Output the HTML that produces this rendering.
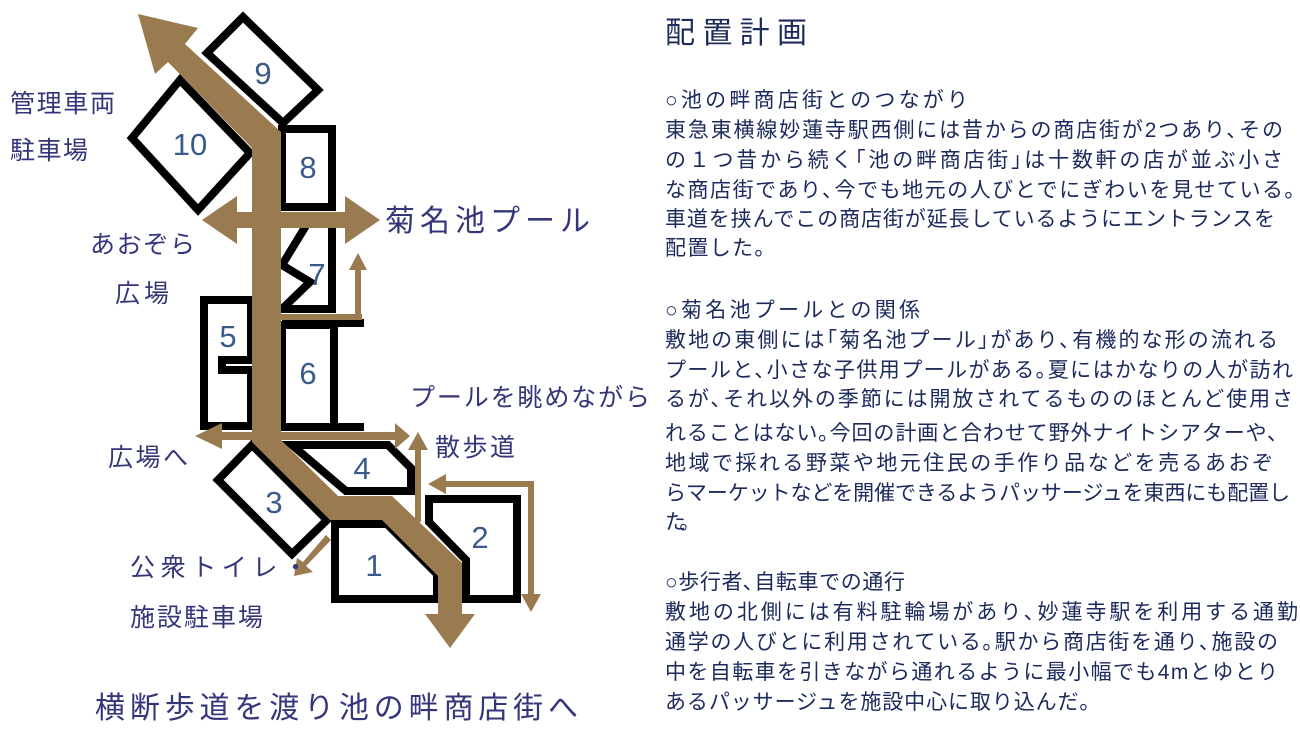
<!DOCTYPE html>
<html><head><meta charset="utf-8"><style>
html,body{margin:0;padding:0;background:#fff;}
svg{display:block;}
.lab{font-family:"Liberation Sans","Noto Sans CJK JP",sans-serif;fill:#35357a;}
.num{font-family:"Liberation Sans","DejaVu Sans",sans-serif;fill:#3a5a8c;font-size:31px;text-anchor:middle;}
.t{font-family:"Liberation Sans","Noto Sans CJK JP",sans-serif;fill:#1c2a5c;font-size:21px;}
</style></head><body>
<svg width="1300" height="731" viewBox="0 0 1300 731" xmlns="http://www.w3.org/2000/svg">
<g fill="none" stroke="#000" stroke-width="8" stroke-linejoin="miter">
<polygon points="243,17 318,90 283,123 207,53"/>
<polygon points="180,80 250,153 198,210 132,138"/>
<rect x="282" y="129" width="50" height="78"/>
<polygon points="307,224 332,224 332,309 282,309 310,282 282,265"/>
<polygon points="204,300 251,300 251,360 222,360 222,370 251,370 251,426 204,426"/>
<rect x="282" y="325" width="52" height="102"/>
<line x1="282" y1="323" x2="364" y2="323"/>
<line x1="282" y1="427" x2="364" y2="427"/>
<polygon points="292,445 388,445 411,468 411,491 346,491"/>
<polygon points="429,499 517,499 517,599 466,599 466,560 429,522"/>
<polygon points="335,524 387,524 437,574 437,599 335,599"/>
<polygon points="252,445 327,520 292,554 218,480"/>
<line x1="256" y1="153" x2="256" y2="210"/>
</g>
<g fill="#9a7b4f" stroke="none">
<path d="M138,14 L198,28 L185,44 L281,132 L281,440 L338,496 L392,496 L462,563 L462,614 L475,614 L450,648 L425,614 L438,614 L438,576 L382,520 L330,520 L252,442 L252,148 L168,62 L155,74 Z"/>
<polygon points="202,220 237,196 237,212 345,212 345,196 380,220 345,244 345,228 237,228 237,244"/>
<polygon points="195,436 222,423 222,432 395,432 395,423 410,436 395,449 395,440 222,440 222,449"/>
<rect x="280" y="314" width="82" height="6"/>
<rect x="355" y="268" width="6" height="52"/>
<polygon points="358,253 367,270 349,270"/>
<rect x="415" y="448" width="6" height="74"/>
<polygon points="418,432 428,450 408,450"/>
<polygon points="428,484 446,474 446,494"/>
<rect x="444" y="481" width="90" height="6"/>
<rect x="528" y="481" width="6" height="116"/>
<polygon points="531,612 521,594 541,594"/>
<polygon points="326,535 331,540 306,566 313,572 294,576 297,558 303,562"/>
</g>
<text class="num" x="263" y="84">9</text>
<text class="num" x="190" y="155">10</text>
<text class="num" x="308" y="178">8</text>
<text class="num" x="317" y="285">7</text>
<text class="num" x="228" y="347">5</text>
<text class="num" x="308" y="384">6</text>
<text class="num" x="362" y="479">4</text>
<text class="num" x="274" y="513">3</text>
<text class="num" x="480" y="548">2</text>
<text class="num" x="374" y="576">1</text>
<g class="lab" style="font-size:25px">
<text x="10" y="112" textLength="105">管理車両</text>
<text x="10" y="159" textLength="78">駐車場</text>
<text x="90" y="253" textLength="105">あおぞら</text>
<text x="115" y="302" textLength="54">広場</text>
<text x="410" y="406" textLength="240">プールを眺めながら</text>
<text x="435" y="456" textLength="80">散歩道</text>
<text x="108" y="466" textLength="80">広場へ</text>
<text x="130" y="576" textLength="178">公衆トイレ・</text>
<text x="130" y="626" textLength="133">施設駐車場</text>
</g>
<text class="lab" x="385" y="231" style="font-size:30px" textLength="205">菊名池プール</text>
<text class="lab" x="95" y="718" style="font-size:30px" textLength="483">横断歩道を渡り池の畔商店街へ</text>
<text class="t" x="665" y="43" style="font-size:30px" textLength="142">配置計画</text>
<g class="t">
<text x="665" y="107" textLength="303">○池の畔商店街とのつながり</text>
<text x="665" y="137" textLength="618">東急東横線妙蓮寺駅西側には昔からの商店街が2つあり､その</text>
<text x="665" y="167" textLength="618">の１つ昔から続く｢池の畔商店街｣は十数軒の店が並ぶ小さ</text>
<text x="665" y="197" textLength="630">な商店街であり､今でも地元の人びとでにぎわいを見せている｡</text>
<text x="665" y="226" textLength="610">車道を挟んでこの商店街が延長しているようにエントランスを</text>
<text x="665" y="255" textLength="100">配置した｡</text>
<text x="665" y="317" textLength="255">○菊名池プールとの関係</text>
<text x="665" y="347" textLength="613">敷地の東側には｢菊名池プール｣があり､有機的な形の流れる</text>
<text x="665" y="377" textLength="628">プールと､小さな子供用プールがある｡夏にはかなりの人が訪れ</text>
<text x="665" y="406" textLength="628">るが､それ以外の季節には開放されてるもののほとんど使用さ</text>
<text x="665" y="440" textLength="613">れることはない｡今回の計画と合わせて野外ナイトシアターや､</text>
<text x="665" y="470" textLength="608">地域で採れる野菜や地元住民の手作り品などを売るあおぞ</text>
<text x="665" y="500" textLength="625">らマーケットなどを開催できるようパッサージュを東西にも配置し</text>
<text x="665" y="529" textLength="25">た｡</text>
<text x="665" y="589" textLength="240">○歩行者､自転車での通行</text>
<text x="665" y="619" textLength="633">敷地の北側には有料駐輪場があり､妙蓮寺駅を利用する通勤</text>
<text x="665" y="649" textLength="613">通学の人びとに利用されている｡駅から商店街を通り､施設の</text>
<text x="665" y="679" textLength="613">中を自転車を引きながら通れるように最小幅でも4mとゆとり</text>
<text x="665" y="709" textLength="425">あるパッサージュを施設中心に取り込んだ｡</text>
</g>
</svg>
</body></html>
